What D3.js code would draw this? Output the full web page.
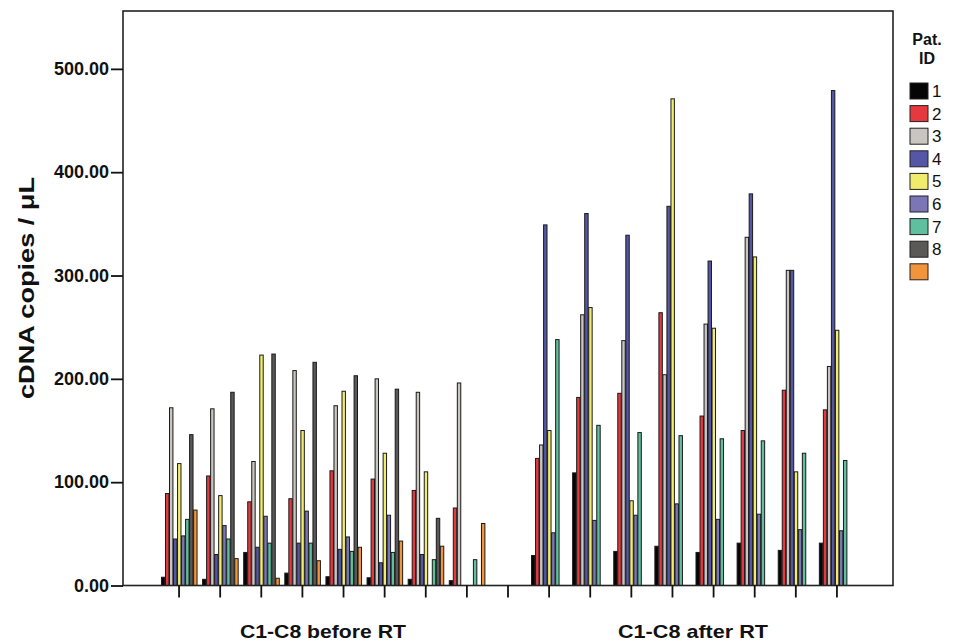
<!DOCTYPE html>
<html>
<head>
<meta charset="utf-8">
<script src="https://cdn.jsdelivr.net/npm/d3@7"></script>
<style>
  body { margin: 0; background: #fff; }
  text { font-family: Arial, "Liberation Sans", sans-serif; }
</style>
</head>
<body>
<div id="chart"></div>
<script>
// categories on the x axis: 8 before RT, one empty slot, 8 after RT
var categories = ["C1 before", "C2 before", "C3 before", "C4 before", "C5 before", "C6 before", "C7 before", "C8 before",
    "gap",
    "C1 after", "C2 after", "C3 after", "C4 after", "C5 after", "C6 after", "C7 after", "C8 after"];

var patients = ["1", "2", "3", "4", "5", "6", "7", "8", ""];
var colors = ["#050505", "#e5393f", "#c9c5c1", "#5557a6", "#f1ec6c", "#7b77b6", "#5fbf9f", "#5b5957", "#f1943b"];

// cDNA copies / uL per patient, one value per category (0 = no bar)
var pat1 = [8, 6, 32, 12, 8.5, 7.5, 6, 4.7, 0, 29, 109, 33, 38, 32, 41, 34, 41];
var pat2 = [89, 106, 81, 84, 111, 103, 92, 75, 0, 123, 182, 186, 264, 164, 150, 189, 170];
var pat3 = [172, 171, 120, 208, 174, 200, 187, 196, 0, 136, 262, 237, 204, 253, 337, 305, 212];
var pat4 = [45, 30, 37, 41, 35, 22, 30, 0, 0, 349, 360, 339, 367, 314, 379, 305, 479];
var pat5 = [118, 87, 223, 150, 188, 128, 110, 0, 0, 150, 269, 82, 471, 249, 318, 110, 247];
var pat6 = [48, 58, 67, 72, 47, 68, 0, 0, 0, 51, 63, 68, 79, 64, 69, 54, 53];
var pat7 = [64, 45, 41, 41, 33, 32, 25, 25, 0, 238, 155, 148, 145, 142, 140, 128, 121];
var pat8 = [146, 187, 224, 216, 203, 190, 65, 0, 0, 0, 0, 0, 0, 0, 0, 0, 0];
var pat9 = [73, 26, 7, 24, 37, 43, 38, 60, 0, 0, 0, 0, 0, 0, 0, 0, 0];

var series = [pat1, pat2, pat3, pat4, pat5, pat6, pat7, pat8, pat9];
var y_ticks = [0, 100, 200, 300, 400, 500];

function render() {
    const width = 953;
    const height = 644;
    const left = 123, right = 893, top = 11, bottom = 585.5;

    const svg = d3.select("#chart")
        .append("svg")
        .attr("width", width)
        .attr("height", height);

    const x = d3.scaleBand()
        .domain(categories)
        .range([158.5, 857.5])
        .paddingInner(0.12)
        .paddingOuter(0.06);

    const x_inner = d3.scaleBand()
        .domain(d3.range(patients.length))
        .range([0, x.bandwidth()]);

    const y = d3.scaleLinear()
        .domain([0, 556])
        .range([bottom, top]);

    // bars
    const rows = [];
    series.forEach((vals, si) => {
        vals.forEach((v, ci) => {
            if (v > 0) rows.push({ s: si, c: categories[ci], v: v });
        });
    });

    svg.append("g")
        .selectAll("rect")
        .data(rows).enter()
        .append("rect")
        .attr("x", d => x(d.c) + x_inner(d.s) + 0.5)
        .attr("y", d => y(d.v))
        .attr("width", x_inner.bandwidth() - 0.6)
        .attr("height", d => y(0) - y(d.v))
        .attr("fill", d => colors[d.s])
        .attr("stroke", "#1a1a1a")
        .attr("stroke-width", 1);

    // frame
    svg.append("rect")
        .attr("x", left)
        .attr("y", top)
        .attr("width", right - left)
        .attr("height", bottom - top)
        .attr("fill", "none")
        .attr("stroke", "#222")
        .attr("stroke-width", 1.6);

    // y axis
    const leftAxis = d3.axisLeft(y)
        .tickValues(y_ticks)
        .tickFormat(d3.format(".2f"))
        .tickSize(12)
        .tickPadding(2);

    const gy = svg.append("g")
        .attr("transform", `translate(${left}, 0)`)
        .call(leftAxis);
    gy.select(".domain").remove();
    gy.selectAll("line").attr("stroke", "#111").attr("stroke-width", 1.8);
    gy.selectAll("text")
        .style("font-size", "18px")
        .style("font-weight", "bold")
        .attr("fill", "#111");

    // x axis (ticks only)
    const bottomAxis = d3.axisBottom(x)
        .tickFormat("")
        .tickSize(12)
        .tickSizeOuter(0);

    const gx = svg.append("g")
        .attr("transform", `translate(0, ${bottom})`)
        .call(bottomAxis);
    gx.select(".domain").remove();
    gx.selectAll("line").attr("stroke", "#111").attr("stroke-width", 1.8);

    // group labels
    const before_mid = (x("C1 before") + x("C8 before") + x.bandwidth()) / 2;
    const after_mid = (x("C1 after") + x("C8 after") + x.bandwidth()) / 2;

    svg.append("text")
        .attr("x", before_mid)
        .attr("y", 637.5)
        .attr("text-anchor", "middle")
        .attr("textLength", 166)
        .attr("lengthAdjust", "spacingAndGlyphs")
        .style("font-size", "19px")
        .style("font-weight", "bold")
        .attr("fill", "#111")
        .text("C1-C8 before RT");

    svg.append("text")
        .attr("x", after_mid)
        .attr("y", 637.5)
        .attr("text-anchor", "middle")
        .attr("textLength", 150)
        .attr("lengthAdjust", "spacingAndGlyphs")
        .style("font-size", "19px")
        .style("font-weight", "bold")
        .attr("fill", "#111")
        .text("C1-C8 after RT");

    // y title
    svg.append("text")
        .attr("transform", "translate(34, 288) rotate(-90)")
        .attr("text-anchor", "middle")
        .attr("textLength", 222)
        .attr("lengthAdjust", "spacingAndGlyphs")
        .style("font-size", "22px")
        .style("font-weight", "bold")
        .attr("fill", "#111")
        .text("cDNA copies / \u03bcL");

    // legend
    const legend = svg.append("g");
    legend.append("text")
        .attr("x", 927)
        .attr("y", 45)
        .attr("text-anchor", "middle")
        .style("font-size", "16px")
        .style("font-weight", "bold")
        .attr("fill", "#111")
        .text("Pat.");
    legend.append("text")
        .attr("x", 927)
        .attr("y", 64)
        .attr("text-anchor", "middle")
        .style("font-size", "16px")
        .style("font-weight", "bold")
        .attr("fill", "#111")
        .text("ID");

    const items = legend.selectAll(".item")
        .data(patients).enter()
        .append("g")
        .attr("class", "item")
        .attr("transform", (d, i) => `translate(910, ${83 + i * 22.6})`);

    items.append("rect")
        .attr("width", 18)
        .attr("height", 16)
        .attr("fill", (d, i) => colors[i])
        .attr("stroke", "#222")
        .attr("stroke-width", 1);

    items.append("text")
        .attr("x", 22)
        .attr("y", 14)
        .style("font-size", "17px")
        .attr("fill", "#111")
        .text(d => d);
}

render();
</script>
</body>
</html>
